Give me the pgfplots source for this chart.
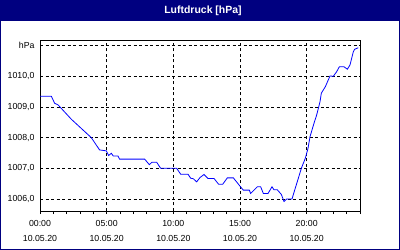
\documentclass[border=0pt]{standalone}
\usepackage{pgfplots}
\pgfplotsset{compat=1.18}
\usepackage{fontspec}
\setmainfont{Liberation Sans}
\definecolor{navy}{RGB}{0,0,128}
\begin{document}
\begin{tikzpicture}[x=1bp,y=1bp]
\useasboundingbox (0,0) rectangle (400,250);
\fill[white] (0,0) rectangle (400,250);
\fill[navy] (0,229) rectangle (400,250);
\draw[navy,line width=1.5bp] (0.75,0.75) rectangle (399.25,249.25);
\node[white,font=\fontsize{10.5}{12}\selectfont\bfseries] at (203,239.5) {Luftdruck [hPa]};
\begin{axis}[
  at={(40bp,39bp)}, anchor=south west,
  scale only axis, width=320bp, height=170bp,
  xmin=0, xmax=24, ymin=1005.61, ymax=1011.15,
  axis line style={black,line width=1bp},
  xtick={0,5,10,15,20},
  xticklabels={{00:00\\10.05.20},{05:00\\10.05.20},{10:00\\10.05.20},{15:00\\10.05.20},{20:00\\10.05.20}},
  minor xtick={1,2,3,4,6,7,8,9,11,12,13,14,16,17,18,19,21,22,23,24},
  ytick={1006,1007,1008,1009,1010,1011},
  yticklabels={{1006,0},{1007,0},{1008,0},{1009,0},{1010,0},hPa},
  xtick pos=bottom, ytick pos=left,
  tick align=outside,
  major tick length=3bp, minor tick length=3bp,
  ymajorticks=true,
  y tick style={draw=none},
  x tick style={black,line width=0.8bp},
  xmajorgrids, ymajorgrids,
  major grid style={black,line width=0.8bp,dash pattern=on 3bp off 2.5bp},
  xticklabel style={align=center,font=\fontsize{8.8}{15}\selectfont,yshift=-3bp},
  yticklabel style={font=\fontsize{8.8}{10}\selectfont,xshift=1bp},
  clip=false,
]
\addplot[blue,line width=0.8bp] coordinates {
(0,1009.35) (0.85,1009.35) (1.1,1009.12) (1.35,1009.07) (1.5,1009.0)
(2.35,1008.6) (3.1,1008.3) (3.85,1008.0) (4.22,1007.76) (4.47,1007.6)
(4.97,1007.57) (5.15,1007.42) (5.35,1007.49) (5.5,1007.4) (5.85,1007.4) (5.97,1007.3)
(7.85,1007.3) (8.2,1007.12) (8.4,1007.2) (8.75,1007.2) (9.05,1007.0)
(10.25,1007.0) (10.55,1006.81) (11.1,1006.81) (11.3,1006.68) (11.5,1006.66)
(11.75,1006.56) (12.0,1006.7) (12.3,1006.8) (12.6,1006.67) (13.05,1006.67)
(13.4,1006.48) (13.7,1006.48) (14.05,1006.69) (14.5,1006.69) (15.0,1006.42)
(15.25,1006.29) (15.7,1006.29) (15.8,1006.18) (16.3,1006.4) (16.55,1006.4)
(16.75,1006.18) (17.1,1006.18) (17.4,1006.4) (17.55,1006.3) (17.8,1006.3)
(18.1,1006.15) (18.3,1005.92) (18.5,1006.0) (18.9,1006.0) (19.1,1006.29)
(19.37,1006.67) (19.6,1007.0) (19.9,1007.33) (20.1,1007.65) (20.25,1008.03)
(20.55,1008.47) (20.75,1008.74) (21.0,1009.17) (21.1,1009.45) (21.4,1009.66)
(21.75,1010.01) (22.0,1010.0) (22.25,1010.15) (22.45,1010.31) (22.8,1010.31)
(23.05,1010.23) (23.25,1010.37) (23.5,1010.8) (23.6,1010.88) (23.87,1010.93)
};
\end{axis}
\end{tikzpicture}
\end{document}
